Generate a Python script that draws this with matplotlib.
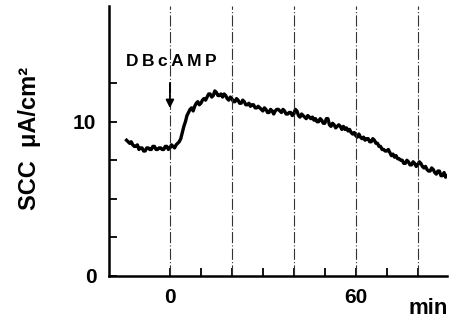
import numpy as np
import matplotlib.pyplot as plt
from matplotlib.ticker import FixedLocator

plt.rcParams['font.family'] = ['Liberation Sans', 'DejaVu Sans']

# time in minutes relative to DBcAMP addition (sampled every half minute)
t = np.arange(-14, 90, 0.5)
# short-circuit current, uA/cm2
scc = [8.8, 8.7, 8.6, 8.7, 8.5, 8.4, 8.4, 8.5, 8.2, 8.3, 8.3, 8.1, 8.1, 8.3,
       8.3, 8.2, 8.2, 8.4, 8.4, 8.2, 8.2, 8.3, 8.3, 8.2, 8.2, 8.4, 8.4, 8.2,
       8.3, 8.5, 8.4, 8.3, 8.5, 8.6, 8.7, 8.9, 9.3, 9.7, 10.0, 10.4, 10.6, 10.8,
       10.9, 10.7, 11.0, 11.2, 11.3, 11.1, 11.2, 11.4, 11.5, 11.4, 11.6, 11.8,
       11.8, 11.6, 11.7, 12.0, 11.9, 11.7, 11.7, 11.8, 11.6, 11.8, 11.7, 11.5,
       11.4, 11.6, 11.5, 11.3, 11.3, 11.5, 11.4, 11.2, 11.2, 11.4, 11.3, 11.1,
       11.1, 11.2, 11.0, 11.1, 11.1, 10.9, 10.9, 11.0, 10.9, 10.8, 10.7, 10.9,
       10.8, 10.6, 10.6, 10.8, 10.7, 10.5, 10.7, 10.8, 10.8, 10.7, 10.6, 10.8,
       10.7, 10.5, 10.5, 10.6, 10.6, 10.4, 10.5, 10.8, 10.7, 10.4, 10.3, 10.5,
       10.4, 10.3, 10.2, 10.4, 10.3, 10.2, 10.3, 10.1, 10.2, 10.0, 10.0, 10.2,
       10.1, 9.9, 9.9, 10.2, 10.2, 9.8, 9.7, 9.9, 9.8, 9.6, 9.7, 9.8,
       9.7, 9.5, 9.7, 9.5, 9.6, 9.4, 9.5, 9.3, 9.2, 9.3, 9.1, 9.0,
       9.2, 9.0, 8.9, 9.0, 8.8, 8.9, 8.9, 8.7, 8.7, 8.9, 8.8, 8.6,
       8.6, 8.4, 8.4, 8.2, 8.2, 8.1, 8.1, 8.2, 8.0, 7.8, 7.9, 7.7,
       7.8, 7.6, 7.6, 7.5, 7.5, 7.3, 7.3, 7.5, 7.4, 7.2, 7.2, 7.4,
       7.3, 7.1, 7.2, 7.4, 7.3, 7.1, 7.0, 7.1, 6.9, 6.8, 6.8, 7.0,
       6.9, 6.7, 6.6, 6.8, 6.8, 6.5, 6.5, 6.7, 6.4, 6.5]
marks = [0, 20, 40, 60, 80]

fig = plt.figure(figsize=(4.5, 3.23), dpi=100)
ax = fig.add_axes([0.242, 0.146, 0.751, 0.835])

ax.plot(t, scc, color='black', linewidth=2.4)
for m in marks:
    ax.axvline(m, color='#333333', linewidth=0.8, linestyle=(0, (10, 2, 1, 2)))

ax.set_xlim(-19.7, 89.4)
ax.set_ylim(0, 17.5)

for s in ['top', 'right']:
    ax.spines[s].set_visible(False)
for s in ['left', 'bottom']:
    ax.spines[s].set_linewidth(1.8)

ax.xaxis.set_major_locator(FixedLocator(range(0, 91, 10)))
ax.set_xticklabels(['0', '', '', '', '', '', '60', '', '', ''])
ax.yaxis.set_major_locator(FixedLocator([0, 10]))
ax.yaxis.set_minor_locator(FixedLocator([2.5, 5, 7.5, 12.5]))
ax.tick_params(axis='both', which='both', direction='in', length=6, width=1.3,
               labelsize=15, pad=9)
for lab in ax.get_xticklabels() + ax.get_yticklabels():
    lab.set_fontweight('bold')

ax.set_ylabel('SCC  μA/cm²', fontsize=17, fontweight='bold')
ax.yaxis.set_label_coords(-0.20, 0.51)
ax.text(89.8, -2.1, 'min', fontsize=16, fontweight='bold', ha='right', va='center')

ax.text(0.3, 13.9, 'D\u2009B\u2009c\u2009A\u2009M\u2009P', fontsize=12.5, fontweight='bold',
        ha='center', va='center')
ax.annotate('', xy=(0, 10.7), xytext=(0, 12.7),
            arrowprops=dict(arrowstyle='-|>', color='black', lw=1.3, mutation_scale=12))

fig.savefig('out.png', dpi=100)
